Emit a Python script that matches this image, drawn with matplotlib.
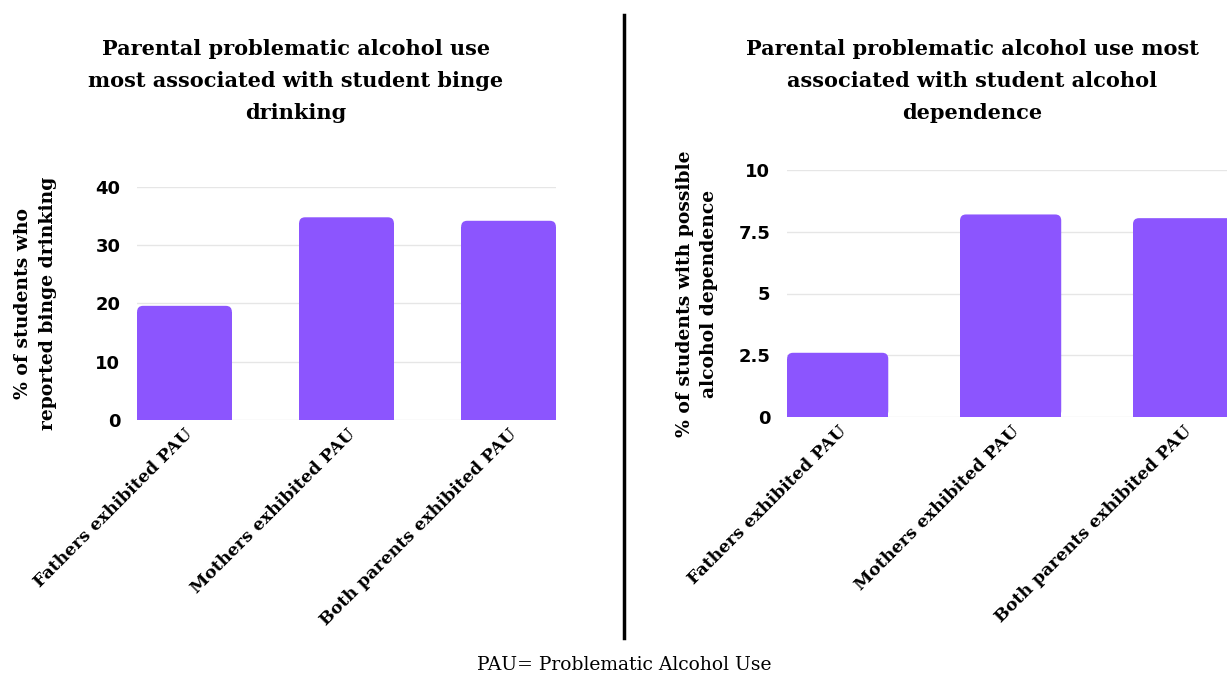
import matplotlib.pyplot as plt
from matplotlib.lines import Line2D
from matplotlib.patches import FancyBboxPatch

# data
categories = ['Fathers exhibited PAU', 'Mothers exhibited PAU', 'Both parents exhibited PAU']
binge_pct = [19.6, 34.8, 34.2]
dependence_pct = [2.6, 8.2, 8.05]
binge_ticks = [0, 10, 20, 30, 40]
dependence_ticks = [0, 2.5, 5, 7.5, 10]
dependence_tick_labels = ['0', '2.5', '5', '7.5', '10']

purple = '#8c55fe'
grid_col = '#e6e6e6'
slab = 'DejaVu Serif'
sans = 'DejaVu Sans'

fig = plt.figure(figsize=(12.27, 6.75), dpi=100)


def draw_panel(rect, values, ticks, ticklabels, ymax, xmax, ylabel, title, title_x, ylabel_x):
    ax = fig.add_axes(rect)
    x = range(len(categories))
    bars = ax.bar(x, values, width=0.585, color=purple, zorder=3)
    ax.set_xlim(-0.293, xmax)
    ax.set_ylim(0, ymax)

    # rounded tops: px -> data units
    fig_w, fig_h = fig.get_size_inches() * fig.dpi
    px_x = (xmax + 0.293) / (rect[2] * fig_w)
    px_y = ymax / (rect[3] * fig_h)
    r = 6
    for b in bars:
        h = b.get_height()
        b.set_height(h - r * px_y)
        ax.add_patch(FancyBboxPatch((b.get_x(), 0), b.get_width(), h,
                                    boxstyle=f'round,pad=0,rounding_size={r * px_x}',
                                    mutation_aspect=px_y / px_x,
                                    facecolor=purple, edgecolor='none', zorder=3))

    ax.set_yticks(ticks)
    ax.set_yticklabels(ticklabels, fontsize=13, fontweight='bold', family=sans)
    ax.set_xticks(list(x))
    ax.set_xticklabels(categories, rotation=45, ha='right', rotation_mode='anchor',
                       fontsize=12.5, fontweight='bold', family=slab)
    ax.tick_params(axis='both', length=0, pad=12)
    ax.tick_params(axis='x', pad=4)
    ax.yaxis.grid(True, color=grid_col, linewidth=1, zorder=0)
    for s in ax.spines.values():
        s.set_visible(False)
    fig.text(ylabel_x, rect[1] + rect[3] / 2, ylabel, rotation=90, ha='center', va='center',
             fontsize=13.5, fontweight='bold', family=slab, linespacing=1.5)
    fig.text(title_x, 1 - 81 / 675, title, ha='center', va='center', fontsize=15,
             fontweight='bold', family=slab, linespacing=1.75)
    return ax


draw_panel([137 / 1227, 1 - 420 / 675, 419 / 1227, 233 / 675], binge_pct, binge_ticks,
           [str(t) for t in binge_ticks], 40, 2.293,
           '% of students who\nreported binge drinking',
           'Parental problematic alcohol use\nmost associated with student binge\ndrinking',
           296 / 1227, 36 / 1227)

draw_panel([787 / 1227, 1 - 417 / 675, 440 / 1227, 247 / 675], dependence_pct, dependence_ticks,
           dependence_tick_labels, 10, 2.251,
           '% of students with possible\nalcohol dependence',
           'Parental problematic alcohol use most\nassociated with student alcohol\ndependence',
           972 / 1227, 697 / 1227)

# divider
fig.add_artist(Line2D([624 / 1227, 624 / 1227], [1 - 15 / 675, 1 - 638 / 675],
                      color='black', linewidth=2.5))

fig.text(624 / 1227, 1 - 665 / 675, 'PAU= Problematic Alcohol Use', ha='center', va='center',
         fontsize=13.5, family=slab)

fig.savefig('out.png', dpi=100, facecolor='white')
